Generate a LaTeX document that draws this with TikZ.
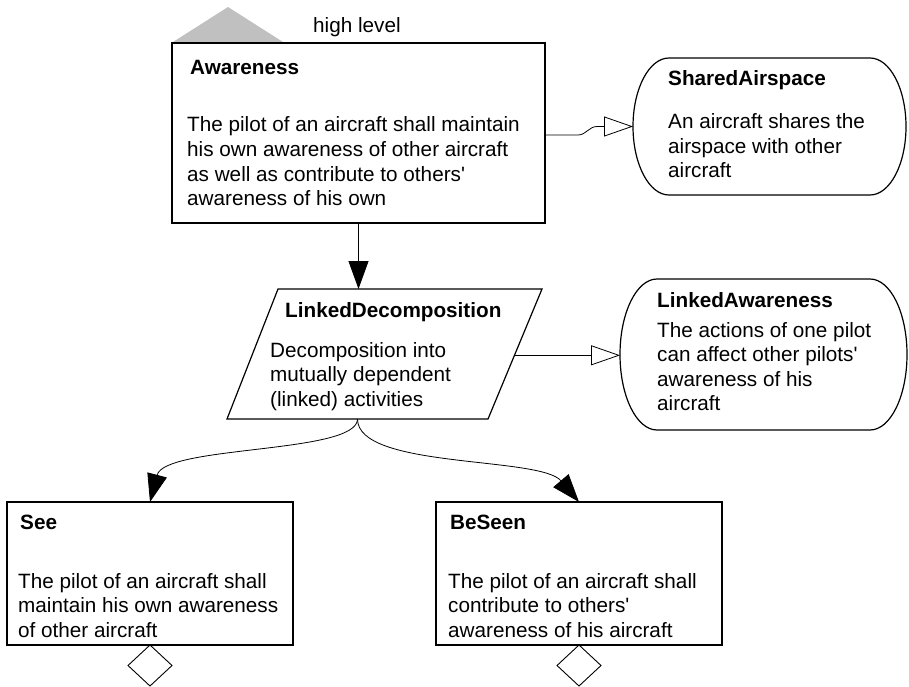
\documentclass[tikz,border=0pt]{standalone}
\usepackage{fontspec}
\setmainfont{Liberation Sans}
\usetikzlibrary{arrows.meta,shapes.geometric,calc}
\newcommand\ml[1]{\begin{tabular}[t]{@{}l@{}}#1\end{tabular}}
\newcommand\apos{\textquotesingle}
% rounded-end outline around a named node: node, end radius x, end radius y
\newcommand\stadiumoutline[3]{%
  \draw[boxline] ([xshift=#2]#1.north west) -- ([xshift=-#2]#1.north east)
    arc[start angle=90,end angle=-90,x radius=#2,y radius=#3]
    -- ([xshift=#2]#1.south west)
    arc[start angle=270,end angle=90,x radius=#2,y radius=#3] -- cycle;}
\begin{document}
\begin{tikzpicture}[x=1pt,y=-1pt,
  txt/.style={font=\fontsize{20.7pt}{24.5pt}\selectfont},
  title/.style={txt,font=\fontsize{20.7pt}{24.5pt}\selectfont\bfseries,anchor=base west,inner sep=0pt},
  body/.style={txt,anchor=base west,inner sep=0pt},
  boxline/.style={line width=1.2pt,black},
  frame/.style={draw,boxline,rectangle,inner sep=0pt,outer sep=0pt},
  shell/.style={rectangle,inner sep=0pt,outer sep=0pt},
  link/.style={line width=0.8pt},
  solidarrow/.style={link,-{Triangle[length=28pt,width=20pt]}},
  openarrow/.style={link,-{Triangle[open,length=29pt,width=20pt,fill=white]}},
  endmark/.style={draw,diamond,line width=0.9pt,minimum width=44pt,minimum height=41pt,inner sep=0pt,outer sep=0pt,anchor=north},
]
\useasboundingbox (0,0) rectangle (909,687);

% level marker
\fill[fill={rgb,255:red,192;green,192;blue,192}] (173,42) -- (228,7) -- (283,42) -- cycle;
\node[body] (lvl) at (313,33) {high level};

% Awareness
\node[frame,minimum width=373pt,minimum height=180pt] (aw) at (358.5,133) {};
\node[title] (awT) at (190,75) {Awareness};
\node[body] (awB) at (187,132) {\ml{The pilot of an aircraft shall maintain\\his own awareness of other aircraft\\as well as contribute to others\apos\\awareness of his own}};

% SharedAirspace
\node[shell,minimum width=273pt,minimum height=137pt] (sa) at (769.5,126.5) {};
\stadiumoutline{sa}{36pt}{68.5pt}
\node[title] (saT) at (668,86) {SharedAirspace};
\node[body] (saB) at (668,129) {\ml{An aircraft shares the\\airspace with other\\aircraft}};

% LinkedDecomposition
\coordinate (ldA) at (227,419);
\coordinate (ldB) at (488,419);
\coordinate (ldC) at (542,289);
\coordinate (ldD) at (278,289);
\draw[boxline] (ldA) -- (ldB) -- (ldC) -- (ldD) -- cycle;
\coordinate (ldS) at ($(ldA)!0.5!(ldB)$);
\coordinate (ldE) at ($(ldB)!0.49!(ldC)$);
\node[title] (ldT) at (285,317) {LinkedDecomposition};
\node[body] (ldBd) at (270,357) {\ml{Decomposition into\\mutually dependent\\(linked) activities}};

% LinkedAwareness
\node[shell,minimum width=287pt,minimum height=151pt] (la) at (763.5,354.5) {};
\stadiumoutline{la}{37pt}{75.5pt}
\node[title] (laT) at (657,307) {LinkedAwareness};
\node[body] (laB) at (657,337) {\ml{The actions of one pilot\\can affect other pilots\apos\\awareness of his\\aircraft}};

% See
\node[frame,minimum width=286pt,minimum height=143pt] (see) at (150,573.5) {};
\node[title] (seeT) at (20,529) {See};
\node[body] (seeB) at (18,588) {\ml{The pilot of an aircraft shall\\maintain his own awareness\\of other aircraft}};
\node[endmark] (seeD) at (see.south) {};

% BeSeen
\node[frame,minimum width=286pt,minimum height=143pt] (bs) at (579,573.5) {};
\node[title] (bsT) at (450,529) {BeSeen};
\node[body] (bsB) at (448,588) {\ml{The pilot of an aircraft shall\\contribute to others\apos\\awareness of his aircraft}};
\node[endmark] (bsD) at (bs.south) {};

% connectors
\draw[openarrow] ([yshift=-2pt]aw.east) -- ++(33,0)
  to[out=0,in=180] ($(sa.west)+(-36,0)$) -- (sa.west);
\draw[solidarrow] (aw.south) -- (aw.south |- ldD);
\draw[openarrow] (ldE) -- (ldE -| la.west);
\draw[solidarrow] (ldS) .. controls +(0,35) and +(15,-57) .. (see.north);
\draw[solidarrow] (ldS) .. controls +(0,50) and +(-39,-46) .. (bs.north);
\end{tikzpicture}
\end{document}
